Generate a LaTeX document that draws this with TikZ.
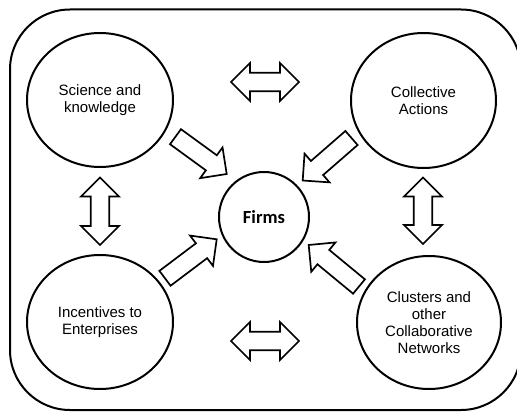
\documentclass[tikz,border=0pt]{standalone}
\usepackage{fontspec}
\setmainfont{Liberation Sans}
\newfontfamily\firmsfont{Carlito}
\usetikzlibrary{calc,shapes.geometric}
\tikzset{
  circ/.style={draw, line width=2pt, ellipse, inner sep=0pt, align=center,
    font=\fontsize{15}{17}\selectfont},
  blk/.style={draw, line width=1.7pt, line join=miter, fill=white},
  outer/.style={draw, line width=2pt, rounded corners=60pt}
}
\newcommand\aw{9.3pt}
\newcommand\ah{19pt}
\newcommand\al{19pt}
\newcommand\blkarrow[2]{%
  \path coordinate (ba-B) at ($(#2)!\al!(#1)$);
  \draw[blk] ($(#1)!\aw!90:(#2)$) -- ($(ba-B)!\aw!90:(#2)$) -- ($(ba-B)!\ah!90:(#2)$)
    -- (#2) -- ($(ba-B)!\ah!-90:(#2)$) -- ($(ba-B)!\aw!-90:(#2)$) -- ($(#1)!\aw!-90:(#2)$) -- cycle;}
\newcommand\dblarrow[2]{%
  \path coordinate (da-A) at ($(#1)!\al!(#2)$) coordinate (da-B) at ($(#2)!\al!(#1)$);
  \draw[blk] (#1) -- ($(da-A)!\ah!90:(#2)$) -- ($(da-A)!\aw!90:(#2)$) -- ($(da-B)!\aw!-90:(#1)$)
    -- ($(da-B)!\ah!-90:(#1)$) -- (#2) -- ($(da-B)!\ah!90:(#1)$) -- ($(da-B)!\aw!90:(#1)$)
    -- ($(da-A)!\aw!-90:(#2)$) -- ($(da-A)!\ah!-90:(#2)$) -- cycle;}
\begin{document}
\begin{tikzpicture}[x=1pt,y=-1pt]
\useasboundingbox (0,0) rectangle (517,412);
\clip (0,0) rectangle (517,412);
\fill[white] (0,0) rectangle (517,412);
\draw[outer] (10,9.5) rectangle (521,410);

\node[circ, minimum width=146pt, minimum height=134pt] (sk) at (100,100) {Science and\\knowledge};
\node[circ, minimum width=145pt, minimum height=135pt] (ca) at (423.5,100.5) {Collective\\Actions};
\node[circ, minimum width=146pt, minimum height=134pt] (ie) at (100,322) {Incentives to\\Enterprises};
\node[circ, minimum width=144pt, minimum height=133pt] (cl) at (429,322.5) {Clusters and\\other\\Collaborative\\Networks};
\node[circ, ellipse, minimum width=90pt, minimum height=90pt, font=\firmsfont\bfseries\fontsize{18.5}{20}\selectfont] (firms) at (264,217) {Firms};

% arrow end points
\coordinate (skT) at (175.5,136.7); \coordinate (skP) at (226.7,174);
\coordinate (caT) at (351.5,138);   \coordinate (caP) at (302.7,180.5);
\coordinate (ieT) at (165,278.3);   \coordinate (ieP) at (216.7,239.3);
\coordinate (clT) at (359,286.5);   \coordinate (clP) at (308.7,245);
\coordinate (tA) at (231,82);  \coordinate (tB) at (299,82);
\coordinate (bA) at (231,341); \coordinate (bB) at (299,341);
\coordinate (lA) at (100,177.5); \coordinate (lB) at (100,245);
\coordinate (rA) at (423,177.5); \coordinate (rB) at (423,244);

\blkarrow{skT}{skP}
\blkarrow{caT}{caP}
\blkarrow{ieT}{ieP}
\blkarrow{clT}{clP}
\dblarrow{tA}{tB}
\dblarrow{bA}{bB}
\dblarrow{lA}{lB}
\dblarrow{rA}{rB}
\end{tikzpicture}
\end{document}
